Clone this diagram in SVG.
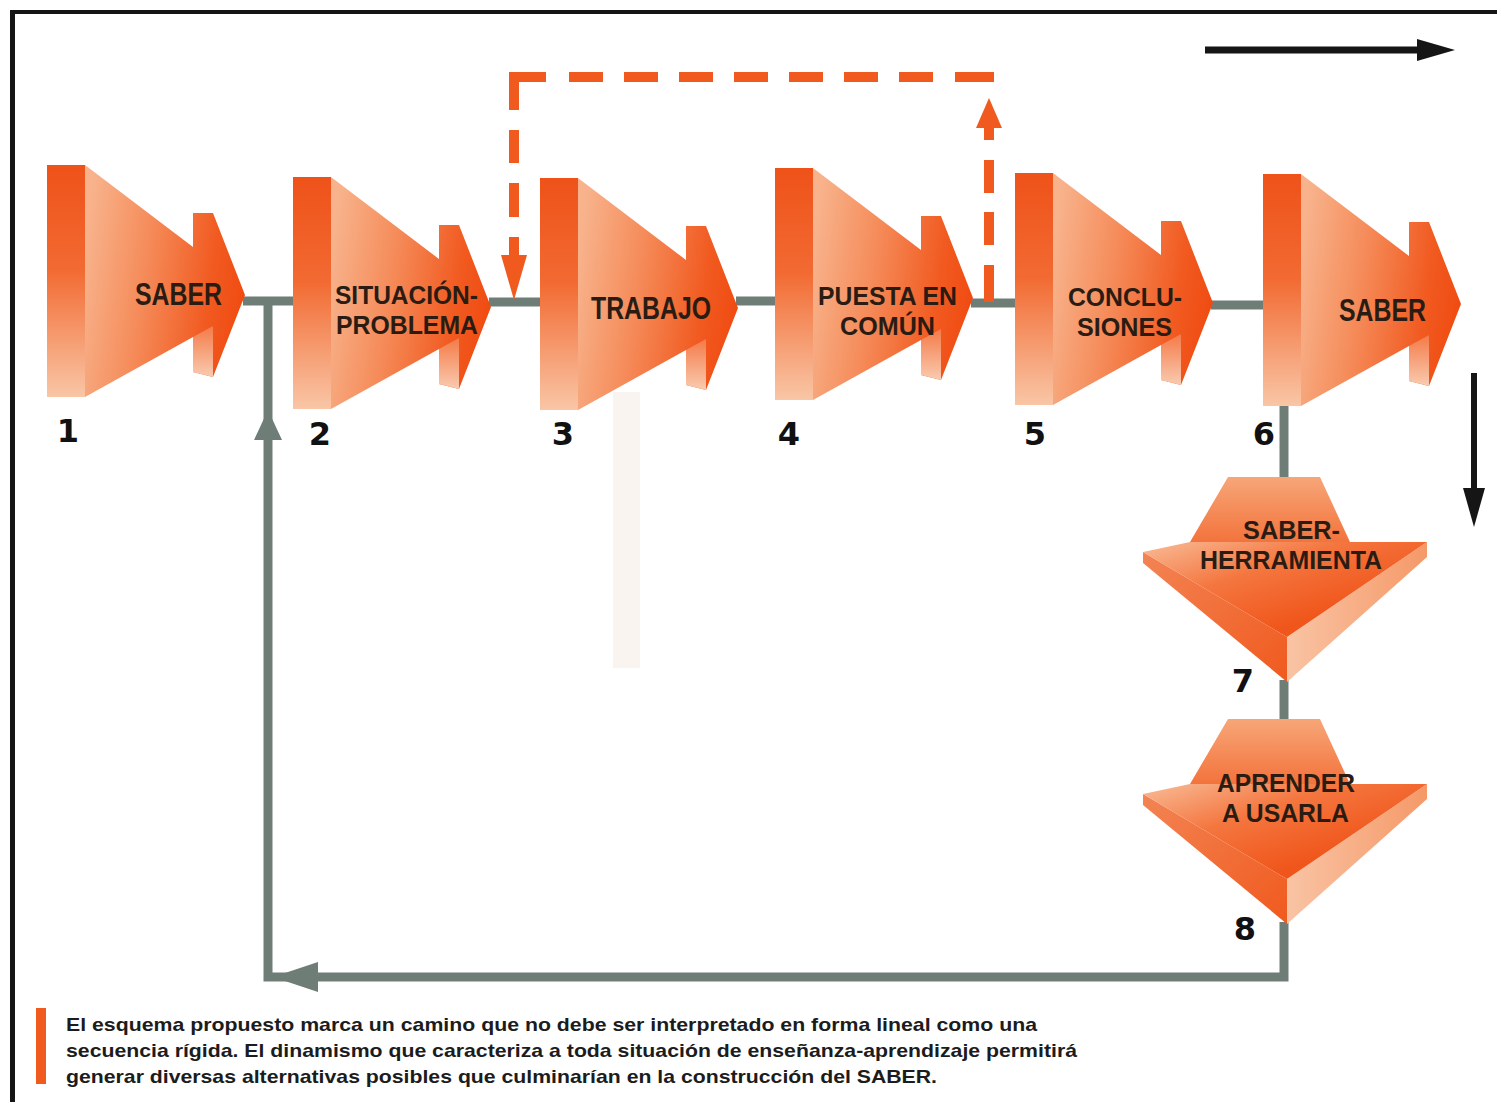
<svg xmlns="http://www.w3.org/2000/svg" xmlns:xlink="http://www.w3.org/1999/xlink" width="1497" height="1102" viewBox="0 0 1497 1102">
<style>
.lbl{font-family:"Liberation Sans",Arial,sans-serif;font-weight:bold;font-size:31px;fill:#2a1c12;text-anchor:middle}
.lbl2{font-family:"Liberation Sans",Arial,sans-serif;font-weight:bold;font-size:26px;fill:#2a1c12;text-anchor:middle}
.num{font-family:"DejaVu Sans",sans-serif;font-weight:bold;font-size:32px;fill:#111;text-anchor:middle}
.cap{font-family:"Liberation Sans",Arial,sans-serif;font-weight:bold;font-size:19px;fill:#1c1c1c}
.gray{stroke:#6e7d76;stroke-width:9;fill:none}
.dash{stroke:#f05a1e;stroke-width:10;fill:none}
</style>
<defs>
<linearGradient id="gFront" x1="0" y1="0" x2="0" y2="1">
<stop offset="0" stop-color="#ee5219"/><stop offset="0.45" stop-color="#f26a32"/><stop offset="1" stop-color="#f9c6a6"/>
</linearGradient>
<linearGradient id="gBody" x1="0" y1="0.3" x2="1" y2="0.5">
<stop offset="0" stop-color="#f8b38c"/><stop offset="0.4" stop-color="#f58a58"/><stop offset="0.8" stop-color="#f15a20"/><stop offset="1" stop-color="#f04c12"/>
</linearGradient>
<linearGradient id="gLow" x1="0" y1="0" x2="0" y2="1">
<stop offset="0" stop-color="#f47a48"/><stop offset="1" stop-color="#f9cbb0"/>
</linearGradient>
<linearGradient id="gTrap" x1="0" y1="0" x2="0" y2="1">
<stop offset="0" stop-color="#f7a678"/><stop offset="1" stop-color="#f3733c"/>
</linearGradient>
<linearGradient id="gTop" x1="0" y1="0" x2="0.7" y2="0.7">
<stop offset="0" stop-color="#f9bc98"/><stop offset="0.5" stop-color="#f4763f"/><stop offset="1" stop-color="#f0561b"/>
</linearGradient>
<linearGradient id="gLeft" x1="0" y1="0" x2="1" y2="1">
<stop offset="0" stop-color="#f38454"/><stop offset="1" stop-color="#f05a1e"/>
</linearGradient>
<linearGradient id="gRight" x1="0" y1="0" x2="1" y2="0">
<stop offset="0" stop-color="#f9c4a4"/><stop offset="1" stop-color="#f59968"/>
</linearGradient>
<g id="harrow">
<rect x="0" y="0" width="38" height="232" fill="url(#gFront)"/>
<polygon points="38,0 146,82 146,48 166,48 198,130 166,212 146,207 146,172 38,232" fill="url(#gBody)"/>
<polygon points="146,172 166,161 166,212 146,207" fill="url(#gLow)"/>
</g>
<g id="varrow">
<polygon points="0,75 144,160 144,205 0,86" fill="url(#gLeft)"/>
<polygon points="144,160 284,65 284,80 144,205" fill="url(#gRight)"/>
<polygon points="0,75 47,65 284,65 144,160" fill="url(#gTop)"/>
<polygon points="85,0 177,0 207,65 47,65" fill="url(#gTrap)"/>
</g>
</defs>
<rect width="1497" height="1102" fill="#ffffff"/>
<line x1="12" y1="12" x2="1497" y2="12" stroke="#151515" stroke-width="4"/>
<line x1="12.5" y1="10" x2="12.5" y2="1102" stroke="#151515" stroke-width="5"/>
<rect x="613" y="392" width="27" height="276" fill="#faf4f0"/>

<g id="direction-arrows">
<line x1="1205" y1="50" x2="1422" y2="50" stroke="#151515" stroke-width="7"/>
<polygon points="1417,39 1455,50 1417,61" fill="#151515"/>
<line x1="1474" y1="373" x2="1474" y2="492" stroke="#151515" stroke-width="6"/>
<polygon points="1463,488 1474,527 1485,488" fill="#151515"/>
</g>

<g id="connectors">
<line class="gray" x1="243" y1="301" x2="295" y2="301"/>
<line class="gray" x1="489" y1="302" x2="542" y2="302"/>
<line class="gray" x1="736" y1="301" x2="777" y2="301"/>
<line class="gray" x1="971" y1="303" x2="1017" y2="303"/>
<line class="gray" x1="1211" y1="305" x2="1265" y2="305"/>
<line class="gray" x1="1284" y1="404" x2="1284" y2="480"/>
<line class="gray" x1="1284" y1="680" x2="1284" y2="721"/>
<polyline class="gray" points="1284,922 1284,977 268,977 268,297"/>
<polygon points="268,410 282,440 254,440" fill="#6e7d76"/>
<polygon points="273,977 318,962 318,992" fill="#6e7d76"/>
<polyline class="dash" points="514,110 514,77 546,77"/>
<line class="dash" x1="514" y1="130" x2="514" y2="163"/>
<line class="dash" x1="514" y1="183" x2="514" y2="217"/>
<line class="dash" x1="514" y1="237" x2="514" y2="262"/>
<polygon points="501,255 527,255 514,300" fill="#f05a1e"/>
<line class="dash" x1="569" y1="77" x2="603" y2="77"/>
<line class="dash" x1="624" y1="77" x2="658" y2="77"/>
<line class="dash" x1="679" y1="77" x2="713" y2="77"/>
<line class="dash" x1="734" y1="77" x2="768" y2="77"/>
<line class="dash" x1="789" y1="77" x2="823" y2="77"/>
<line class="dash" x1="844" y1="77" x2="878" y2="77"/>
<line class="dash" x1="899" y1="77" x2="933" y2="77"/>
<line class="dash" x1="955" y1="77" x2="994" y2="77"/>
<polygon points="976,128 1002,128 989,98" fill="#f05a1e"/>
<line class="dash" x1="989" y1="126" x2="989" y2="140"/>
<line class="dash" x1="989" y1="160" x2="989" y2="193"/>
<line class="dash" x1="989" y1="212" x2="989" y2="245"/>
<line class="dash" x1="989" y1="265" x2="989" y2="302"/>
</g>

<g id="node1">
<use xlink:href="#harrow" href="#harrow" x="47" y="165"/>
<text class="lbl" x="178.5" y="305" textLength="87" lengthAdjust="spacingAndGlyphs">SABER</text>
<text class="num" x="68" y="442">1</text>
</g>
<g id="node2">
<use xlink:href="#harrow" href="#harrow" x="293" y="177"/>
<text class="lbl2" x="406.5" y="304" textLength="143" lengthAdjust="spacingAndGlyphs">SITUACIÓN-</text>
<text class="lbl2" x="407" y="334" textLength="142" lengthAdjust="spacingAndGlyphs">PROBLEMA</text>
<text class="num" x="320" y="445">2</text>
</g>
<g id="node3">
<use xlink:href="#harrow" href="#harrow" x="540" y="178"/>
<text class="lbl" x="651" y="319" textLength="120" lengthAdjust="spacingAndGlyphs">TRABAJO</text>
<text class="num" x="563" y="445">3</text>
</g>
<g id="node4">
<use xlink:href="#harrow" href="#harrow" x="775" y="168"/>
<text class="lbl2" x="887.5" y="305" textLength="139" lengthAdjust="spacingAndGlyphs">PUESTA EN</text>
<text class="lbl2" x="887.5" y="335" textLength="95" lengthAdjust="spacingAndGlyphs">COMÚN</text>
<text class="num" x="789" y="445">4</text>
</g>
<g id="node5">
<use xlink:href="#harrow" href="#harrow" x="1015" y="173"/>
<text class="lbl2" x="1125" y="306" textLength="114" lengthAdjust="spacingAndGlyphs">CONCLU-</text>
<text class="lbl2" x="1124.5" y="336" textLength="95" lengthAdjust="spacingAndGlyphs">SIONES</text>
<text class="num" x="1035" y="445">5</text>
</g>
<g id="node6">
<use xlink:href="#harrow" href="#harrow" x="1263" y="174"/>
<text class="lbl" x="1382.5" y="321" textLength="87" lengthAdjust="spacingAndGlyphs">SABER</text>
<text class="num" x="1264" y="445">6</text>
</g>
<g id="node7">
<use xlink:href="#varrow" href="#varrow" x="1143" y="477"/>
<text class="lbl2" x="1291.5" y="539" textLength="97" lengthAdjust="spacingAndGlyphs">SABER-</text>
<text class="lbl2" x="1291" y="569" textLength="182" lengthAdjust="spacingAndGlyphs">HERRAMIENTA</text>
<text class="num" x="1243" y="692">7</text>
</g>
<g id="node8">
<use xlink:href="#varrow" href="#varrow" x="1143" y="719"/>
<text class="lbl2" x="1286" y="792" textLength="138" lengthAdjust="spacingAndGlyphs">APRENDER</text>
<text class="lbl2" x="1285.5" y="822" textLength="127" lengthAdjust="spacingAndGlyphs">A USARLA</text>
<text class="num" x="1245" y="940">8</text>
</g>

<g id="caption">
<rect x="36" y="1008" width="10" height="76" fill="#f05a1e"/>
<text class="cap" x="66" y="1031" textLength="971" lengthAdjust="spacingAndGlyphs">El esquema propuesto marca un camino que no debe ser interpretado en forma lineal como una</text>
<text class="cap" x="66" y="1057" textLength="1011" lengthAdjust="spacingAndGlyphs">secuencia rígida. El dinamismo que caracteriza a toda situación de enseñanza-aprendizaje permitirá</text>
<text class="cap" x="66" y="1083" textLength="871" lengthAdjust="spacingAndGlyphs">generar diversas alternativas posibles que culminarían en la construcción del SABER.</text>
</g>
</svg>
